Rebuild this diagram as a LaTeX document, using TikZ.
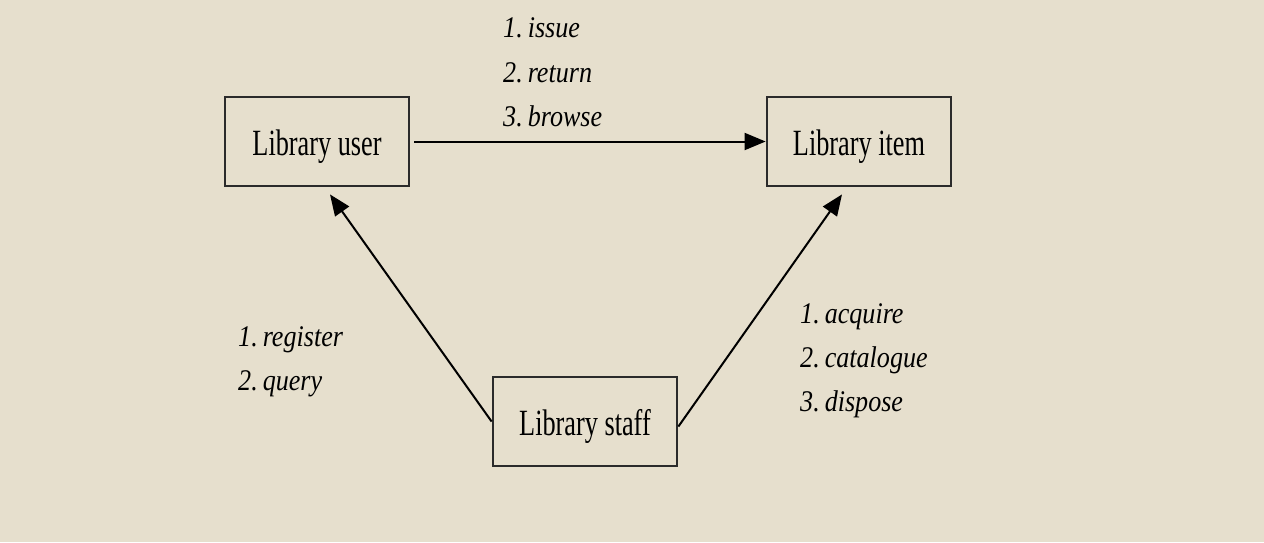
\documentclass[tikz,border=0pt]{standalone}
\usepackage{fontspec}
\setmainfont{Liberation Serif}
\newfontfamily\boxfont[FakeStretch=0.71]{Liberation Serif}
\newfontfamily\labfont[FakeStretch=0.87]{Liberation Serif}
\usetikzlibrary{arrows.meta,calc}
\definecolor{bg}{HTML}{E6DFCD}
\definecolor{ink}{HTML}{2B2B2B}
\tikzset{
  entity/.style={draw=ink, line width=2.8pt, minimum width=184pt, minimum height=89pt,
    inner sep=0pt, font=\boxfont\fontsize{37}{40}\selectfont, text=black},
  conn/.style={draw=black, line width=2pt, -{Triangle[length=21pt,width=17pt]}},
  lab/.style={anchor=base west, inner sep=0pt, font=\labfont\itshape\fontsize{30}{32}\selectfont, text=black}
}
\newcommand{\ent}[1]{\raisebox{-5pt}[\height][\depth]{#1}}
\newcommand{\gap}{\hspace{5pt}}
\begin{document}
\begin{tikzpicture}[x=1pt,y=-1pt]
\fill[bg] (0,0) rectangle (1264,542);
\useasboundingbox (0,0) rectangle (1264,542);
\node[entity] (user) at (317,141.5) {\ent{Library user}};
\node[entity] (item) at (859,141.5) {\ent{Library item}};
\node[entity] (staff) at (585,421.5) {\ent{Library staff}};
\coordinate (ut) at ($(user.south)+(13,7)$);
\coordinate (it) at ($(item.south)+(-17,7)$);
\draw[conn, shorten <=4pt] (user.east) -- (item.west);
\draw[conn] (staff.west) -- (ut);
\draw[conn] ([yshift=-5pt]staff.east) -- (it);
\node[lab] (t1) at (503,37) {1.\gap issue};
\node[lab] (t2) at (503,82) {2.\gap return};
\node[lab] (t3) at (503,126) {3.\gap browse};
\node[lab] (l1) at (238,346) {1.\gap register};
\node[lab] (l2) at (238,390) {2.\gap query};
\node[lab] (r1) at (800,323) {1.\gap acquire};
\node[lab] (r2) at (800,367) {2.\gap catalogue};
\node[lab] (r3) at (800,411) {3.\gap dispose};
\end{tikzpicture}
\end{document}
